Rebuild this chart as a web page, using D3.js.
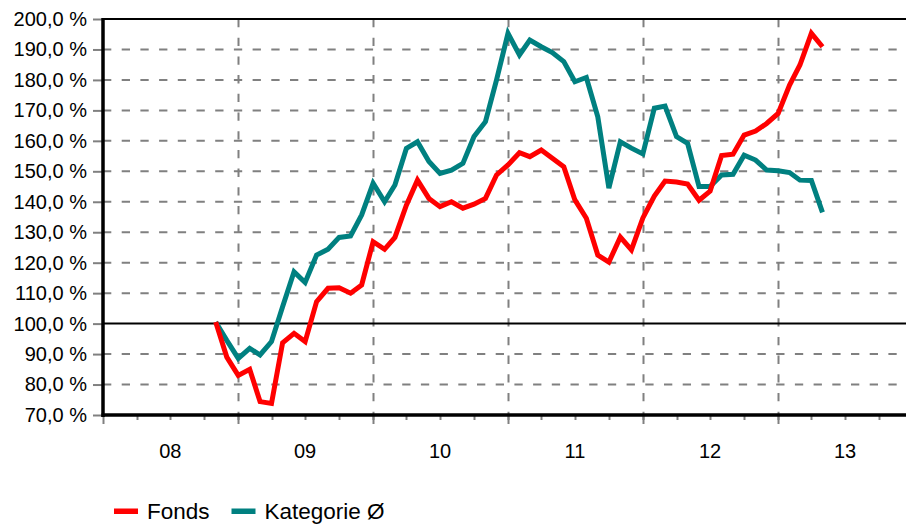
<!DOCTYPE html>
<html>
<head>
<meta charset="utf-8">
<script src="https://cdn.jsdelivr.net/npm/d3@7"></script>
<style>
    body { margin: 0; background: #fff; }
    text { font-family: "Liberation Sans", Arial, sans-serif; fill: #000; }
</style>
</head>
<body>
<div id="chart"></div>
<script>
// monthly points, Nov 2008 .. May 2013
let months = d3.timeMonth.range(new Date(2008, 10, 1), new Date(2013, 5, 1));

let fonds = [100.5, 89, 83, 85, 74.4, 73.8, 93.7, 96.8, 94.1, 107.2,
    111.6, 111.8, 110, 112.7, 126.9, 124.4, 128.3, 138.9, 147.1, 141.1,
    138.4, 140, 137.9, 139.2, 141.1, 148.8, 152.1, 156.1, 154.8, 157,
    154.3, 151.5, 140.6, 134.6, 122.5, 120.2, 128.4, 124.2, 134.7, 141.9,
    146.8, 146.5, 145.8, 140.5, 143.5, 155.2, 155.6, 161.9, 163.2, 165.7,
    169, 178.3, 184.9, 195.3, 190.9];

let kategorie = [100.5, 94.5, 88.6, 91.9, 89.7, 94.1, 105.5, 117, 113.5, 122.5,
    124.4, 128.3, 128.8, 135.7, 146.1, 140, 145.5, 157.5, 159.7, 153.2,
    149.3, 150.4, 152.6, 161.4, 166.3, 180, 195.3, 188.2, 193.1, 190.9,
    189, 186, 179.4, 180.8, 167.9, 144.5, 159.7, 157.6, 155.7, 170.7,
    171.4, 161.4, 159.2, 145, 145, 148.8, 149, 155.3, 153.7, 150.4,
    150.2, 149.6, 147.1, 147, 136.5];

let yTicks = d3.range(70, 201, 10);
let yearLabels = ["08", "09", "10", "11", "12", "13"];
let seriesNames = ["Fonds", "Kategorie Ø"];
let colors = ["#ff0000", "#008080"];

let width = 906, height = 524;
let margin = { left: 103, top: 19, bottom: 415 };

let svg = d3.select("#chart").append("svg")
    .attr("width", width)
    .attr("height", height);

svg.append("rect").attr("width", width).attr("height", height).attr("fill", "#fff");

// Scales
let x = d3.scaleTime()
    .domain([new Date(2008, 0, 1), new Date(2014, 0, 1)])
    .range([margin.left, 913]);

let y = d3.scaleLinear()
    .domain([70, 200])
    .range([margin.bottom, margin.top]);

// horizontal grid
svg.append("g").selectAll("line")
    .data(yTicks.filter(d => d > 70 && d < 200 && d !== 100))
    .join("line")
    .attr("x1", margin.left).attr("x2", width)
    .attr("y1", d => y(d)).attr("y2", d => y(d))
    .attr("stroke", "#808080")
    .attr("stroke-width", 2)
    .attr("stroke-dasharray", "8.3,10.4");

// vertical year grid
let yearStarts = d3.timeYear.range(new Date(2009, 0, 1), new Date(2014, 0, 1));
svg.append("g").selectAll("line")
    .data(yearStarts)
    .join("line")
    .attr("x1", d => Math.round(x(d)) + 0.5).attr("x2", d => Math.round(x(d)) + 0.5)
    .attr("y1", margin.top).attr("y2", margin.bottom + 9)
    .attr("stroke", "#808080")
    .attr("stroke-width", 2)
    .attr("stroke-dasharray", "8.3,10.4");

// quarter ticks below the axis
let quarters = d3.timeMonth.every(3).range(new Date(2008, 0, 1), new Date(2014, 0, 1));
svg.append("g").selectAll("line")
    .data(quarters)
    .join("line")
    .attr("x1", d => Math.round(x(d)) + 0.5).attr("x2", d => Math.round(x(d)) + 0.5)
    .attr("y1", margin.bottom)
    .attr("y2", d => d.getMonth() === 0 ? margin.bottom + 9 : margin.bottom + 5)
    .attr("stroke", "#808080")
    .attr("stroke-width", 2);

// 100 % line and top border
svg.append("line")
    .attr("x1", margin.left).attr("x2", width)
    .attr("y1", y(100)).attr("y2", y(100))
    .attr("stroke", "#000").attr("stroke-width", 2);

svg.append("line")
    .attr("x1", margin.left).attr("x2", width)
    .attr("y1", y(200)).attr("y2", y(200))
    .attr("stroke", "#000").attr("stroke-width", 2);

// y axis
let yAxis = d3.axisLeft(y)
    .tickValues(yTicks)
    .tickSize(9)
    .tickPadding(6)
    .tickFormat(d => d3.format(".1f")(d).replace(".", ",") + " %");

let yG = svg.append("g")
    .attr("transform", "translate(" + (margin.left - 1) + ",0)")
    .call(yAxis);
yG.select(".domain").remove();
yG.selectAll(".tick line").attr("stroke", "#808080").attr("stroke-width", 2);
yG.selectAll(".tick text")
    .attr("font-size", 20)
    .style("font-family", "'Liberation Sans', Arial, sans-serif");

// x labels at the middle of each year
let yearMids = d3.range(2008, 2014).map(yr => new Date(yr, 6, 1));
svg.append("g").selectAll("text")
    .data(yearLabels)
    .join("text")
    .attr("x", (d, i) => x(yearMids[i]))
    .attr("y", 458)
    .attr("text-anchor", "middle")
    .attr("font-size", 20)
    .text(d => d);

// axis spines
svg.append("line")
    .attr("x1", margin.left).attr("x2", margin.left)
    .attr("y1", margin.top - 1).attr("y2", margin.bottom + 2)
    .attr("stroke", "#000").attr("stroke-width", 3.5);
svg.append("line")
    .attr("x1", margin.left - 1.5).attr("x2", width)
    .attr("y1", margin.bottom).attr("y2", margin.bottom)
    .attr("stroke", "#000").attr("stroke-width", 3.5);

// lines
let line = d3.line()
    .x((d, i) => x(months[i]))
    .y(d => y(d));

svg.append("path")
    .datum(kategorie)
    .attr("fill", "none")
    .attr("stroke", colors[1])
    .attr("stroke-width", 5)
    .attr("d", line);

svg.append("path")
    .datum(fonds)
    .attr("fill", "none")
    .attr("stroke", colors[0])
    .attr("stroke-width", 5)
    .attr("d", line);

// legend (the reference cuts it at the bottom edge; kept just inside here)
let legendX = [114, 231.5];
let legend = svg.append("g");
seriesNames.forEach(function (name, i) {
    legend.append("rect")
        .attr("x", legendX[i]).attr("y", 508.5)
        .attr("width", 24).attr("height", 5.5)
        .attr("fill", colors[i]);
    legend.append("text")
        .attr("x", legendX[i] + 33)
        .attr("y", 518.5)
        .attr("font-size", 22.5)
        .text(name);
});
</script>
</body>
</html>
